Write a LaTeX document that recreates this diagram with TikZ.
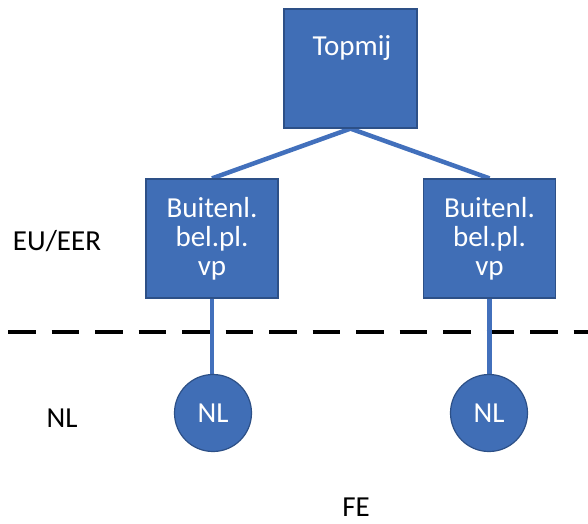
\documentclass[tikz,border=0pt]{standalone}
\usepackage{fontspec}
\setmainfont{Carlito}
\usetikzlibrary{backgrounds}
\definecolor{boxfill}{RGB}{64,110,182}
\definecolor{boxedge}{RGB}{45,80,135}
\definecolor{linkblue}{RGB}{66,112,188}
\begin{document}
\begin{tikzpicture}[x=1pt,y=-1pt,
  every node/.style={font=\fontsize{29}{29}\selectfont},
  entity/.style={draw=boxedge, line width=1.2pt, fill=boxfill, text=white, align=center, inner sep=0pt},
  sqbox/.style={entity, rectangle, minimum width=132pt, minimum height=119pt},
  nlcircle/.style={entity, circle, minimum size=77pt},
  link/.style={draw=linkblue, line width=4.5pt},
  region/.style={text=black, anchor=base}]
\useasboundingbox (0,0) rectangle (588,523);
% nodes
\node[sqbox, minimum width=133pt] (top) at (350.5,68.5) {};
\node[text=white, anchor=base] (toplabel) at (352,55) {Topmij};
\node[sqbox] (left) at (212,238.5) {Buitenl.\\bel.pl.\\vp};
\node[sqbox] (right) at (489.5,238.5) {Buitenl.\\bel.pl.\\vp};
\node[nlcircle] (nl1) at (213,413) {NL};
\node[nlcircle] (nl2) at (489,413) {NL};
% region labels
\node[region] (eu) at (57,250) {EU/EER};
\node[region] (nl) at (62,427) {NL};
\node[region] (fe) at (356,516) {FE};
\begin{scope}[on background layer]
\fill[white] (0,0) rectangle (588,523);
\coordinate (dashL) at (8,332);
\coordinate (dashR) at (600,332);
\draw[black, line width=3.5pt, dash pattern=on 27.5pt off 16pt] (dashL) -- (dashR);
\draw[link] (top.south) -- (left.north);
\draw[link] (top.south) -- (right.north);
\draw[link] (left.south) -- (left.south |- nl1.north);
\draw[link] (right.south) -- (right.south |- nl2.north);
\end{scope}
\end{tikzpicture}
\end{document}
